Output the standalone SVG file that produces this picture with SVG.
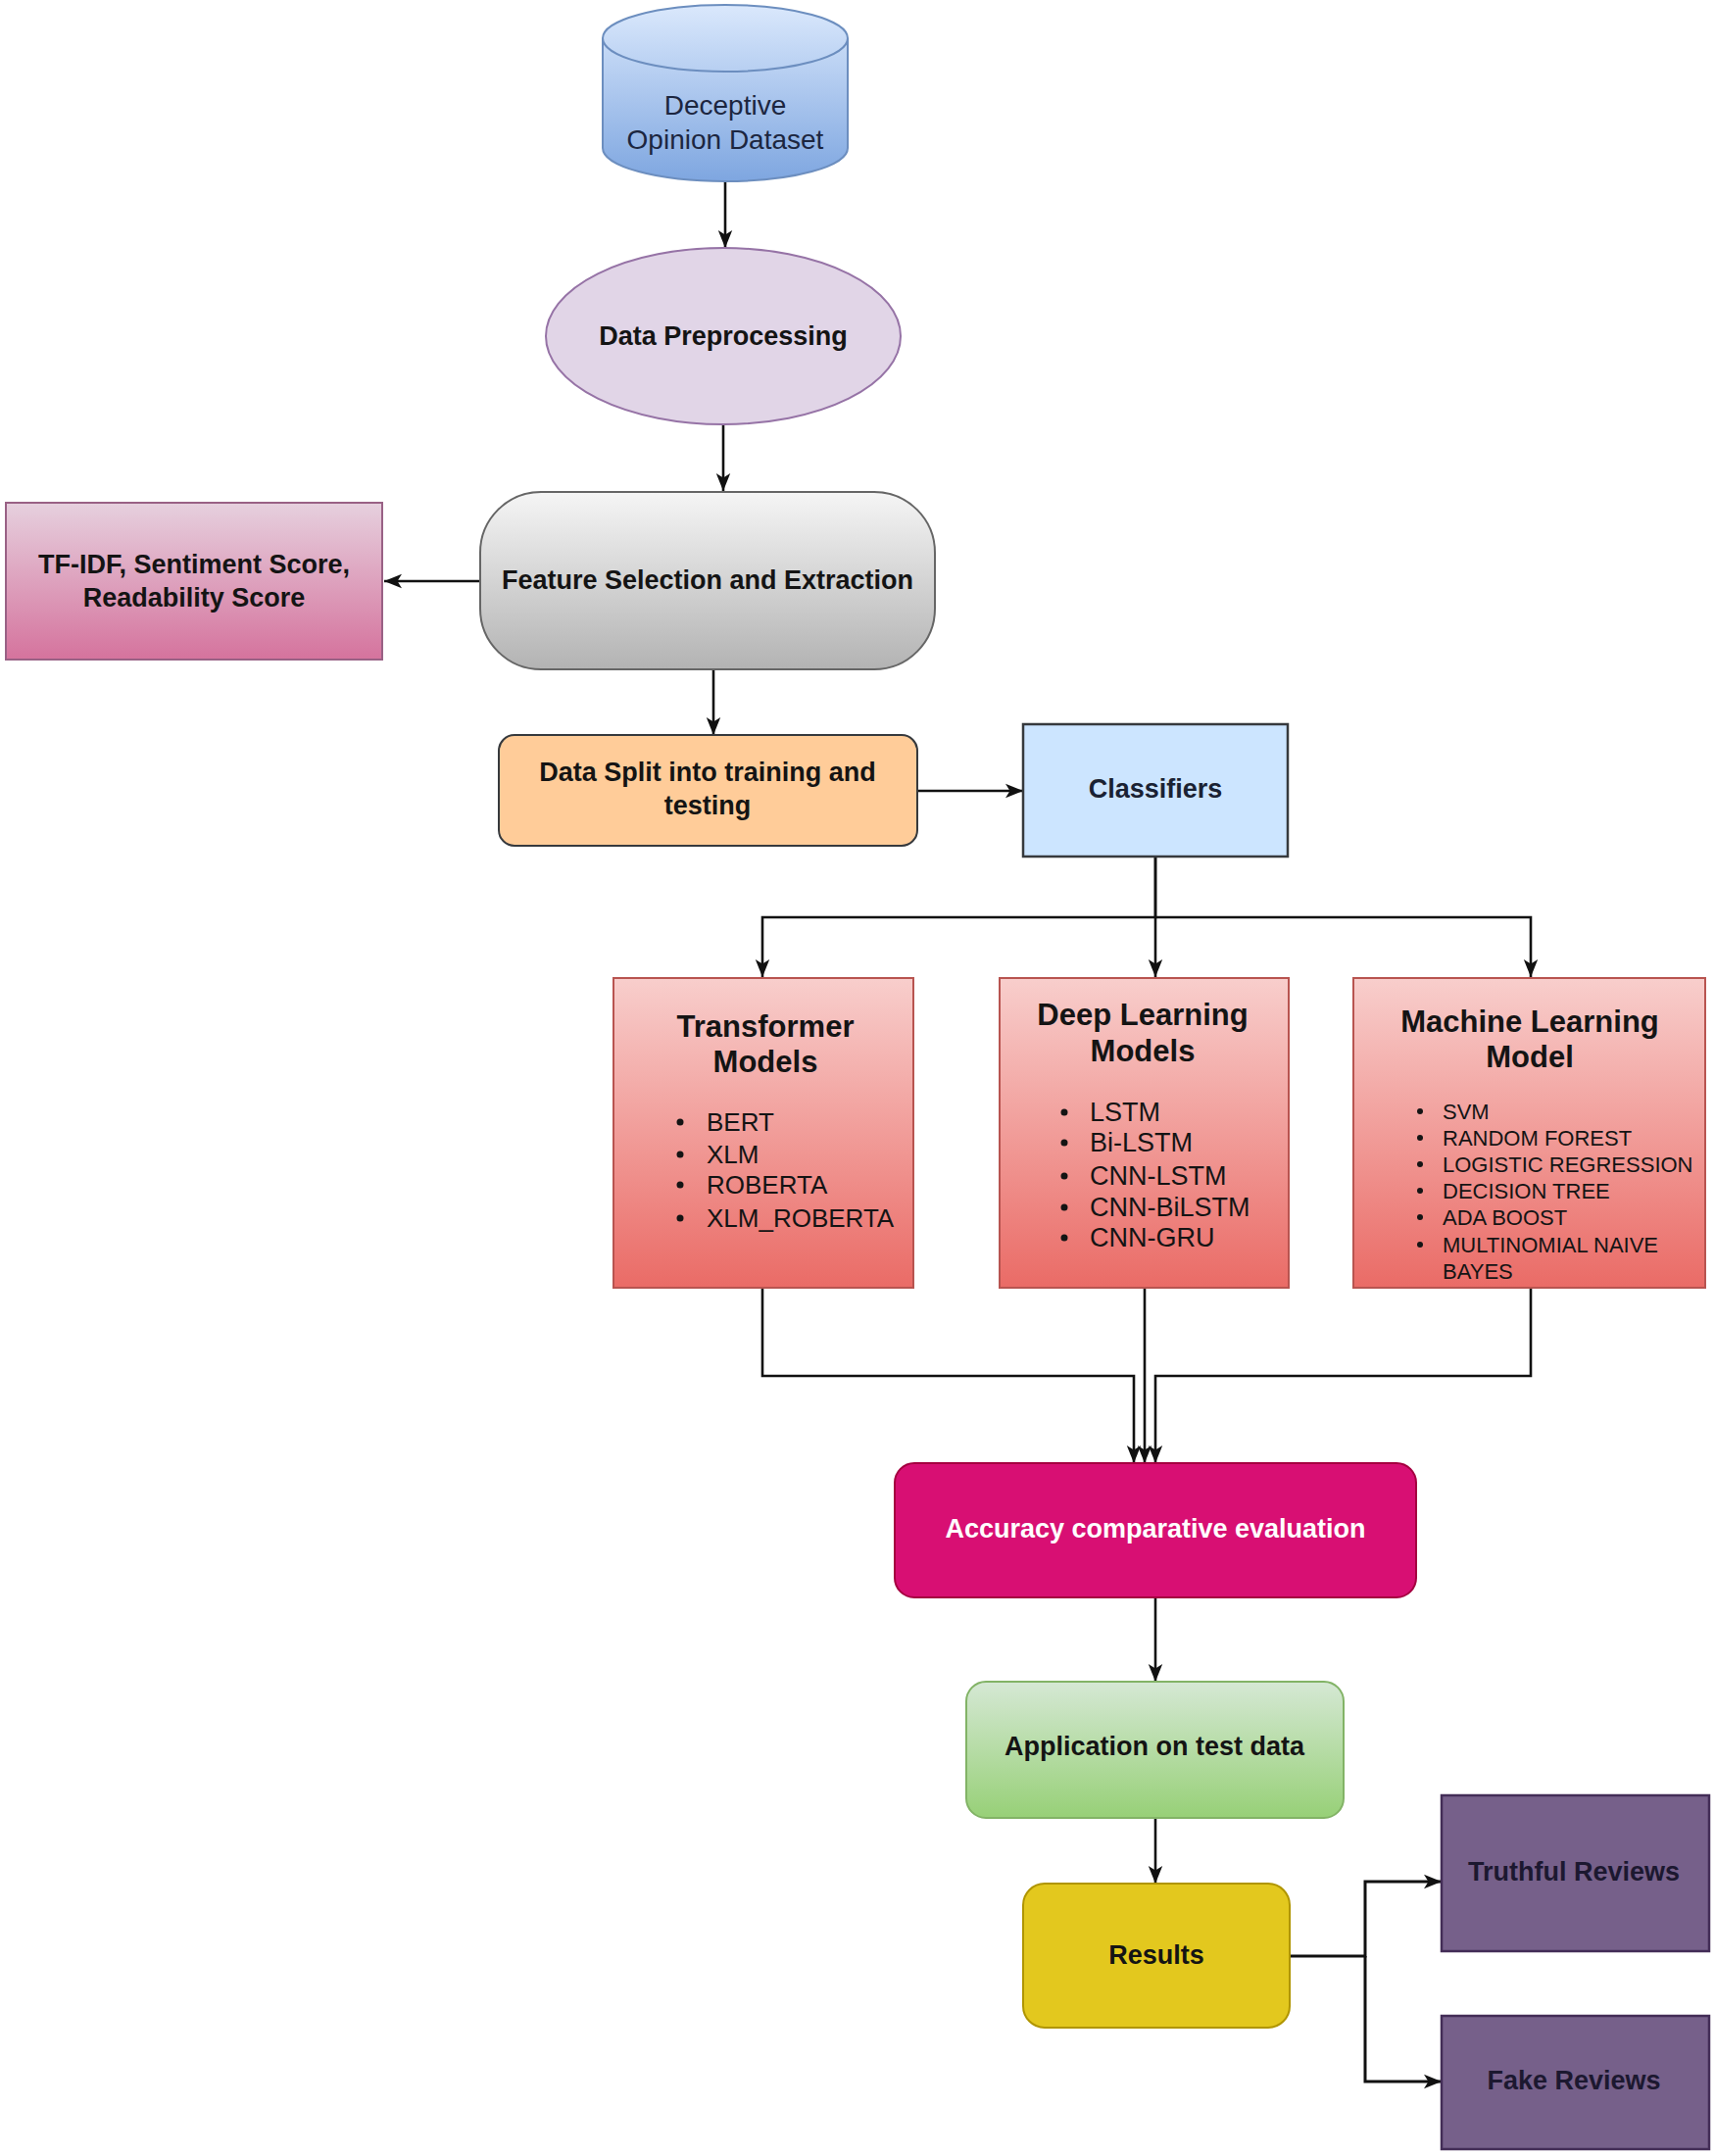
<svg xmlns="http://www.w3.org/2000/svg" width="1750" height="2200" viewBox="0 0 1750 2200">
<style>
text{font-family:"Liberation Sans",Arial,Helvetica,sans-serif;fill:#141414;text-anchor:middle}
.lbl{font-size:27px;font-weight:bold}
.ttl{font-size:31px;font-weight:bold}
.b1{font-size:26px;text-anchor:start}
.b2{font-size:27px;text-anchor:start}
.b3{font-size:22px;text-anchor:start}
.conn{fill:none;stroke:#111;stroke-width:2.6;marker-end:url(#arr)}
.dot{fill:#141414}
</style>
<defs>
<marker id="arr" viewBox="0 0 20 20" refX="20" refY="10" markerWidth="18" markerHeight="18" markerUnits="userSpaceOnUse" orient="auto">
<path d="M0,2 L20,10 L0,18 L5,10 z" fill="#111"/>
</marker>
<linearGradient id="gBlue" x1="0" y1="0" x2="0" y2="1"><stop offset="0" stop-color="#dae8fc"/><stop offset="1" stop-color="#7ea6e0"/></linearGradient>
<linearGradient id="gGray" x1="0" y1="0" x2="0" y2="1"><stop offset="0" stop-color="#f5f5f5"/><stop offset="1" stop-color="#b3b3b3"/></linearGradient>
<linearGradient id="gPink" x1="0" y1="0" x2="0" y2="1"><stop offset="0" stop-color="#e6d0de"/><stop offset="1" stop-color="#d5739d"/></linearGradient>
<linearGradient id="gRed" x1="0" y1="0" x2="0" y2="1"><stop offset="0" stop-color="#f8cecc"/><stop offset="1" stop-color="#ea6b66"/></linearGradient>
<linearGradient id="gGreen" x1="0" y1="0" x2="0" y2="1"><stop offset="0" stop-color="#d5e8d4"/><stop offset="1" stop-color="#97d077"/></linearGradient>
</defs>
<rect width="1750" height="2200" fill="#ffffff"/>

<g id="connectors">
<path class="conn" d="M740,185 V253"/>
<path class="conn" d="M738,433 V501"/>
<path class="conn" d="M490,593 H392"/>
<path class="conn" d="M728,683 V750"/>
<path class="conn" d="M936,807 H1044"/>
<path class="conn" d="M1179,874 V936 H778 V997"/>
<path class="conn" d="M1179,874 V997"/>
<path class="conn" d="M1179,936 H1562 V997"/>
<path class="conn" d="M778,1314 V1404 H1157 V1493"/>
<path class="conn" d="M1168,1314 V1493"/>
<path class="conn" d="M1562,1314 V1404 H1179 V1493"/>
<path class="conn" d="M1179,1630 V1716"/>
<path class="conn" d="M1179,1855 V1922"/>
<path class="conn" d="M1316,1996 H1393 V1920 H1471" style="stroke-width:3"/>
<path class="conn" d="M1393,1996 V2124 H1471" style="stroke-width:3"/>
</g>

<g id="dataset">
<path d="M615,39 A125,34 0 0 1 865,39 V151 A125,34 0 0 1 615,151 Z" fill="url(#gBlue)" stroke="#6c8ebf" stroke-width="2"/>
<path d="M615,39 A125,34 0 0 0 865,39" fill="none" stroke="#6c8ebf" stroke-width="2"/>
<text class="lbl" x="740" y="117" style="font-weight:normal;font-size:28px;fill:#1c2640">Deceptive</text>
<text class="lbl" x="740" y="152" style="font-weight:normal;font-size:28px;fill:#1c2640">Opinion Dataset</text>
</g>

<g id="preprocessing">
<ellipse cx="738" cy="343" rx="181" ry="90" fill="#e1d5e7" stroke="#9673a6" stroke-width="2"/>
<text class="lbl" x="738" y="352">Data Preprocessing</text>
</g>

<g id="feature">
<rect x="490" y="502" width="464" height="181" rx="62" ry="62" fill="url(#gGray)" stroke="#666666" stroke-width="2"/>
<text class="lbl" x="722" y="601">Feature Selection and Extraction</text>
</g>

<g id="tfidf">
<rect x="6" y="513" width="384" height="160" fill="url(#gPink)" stroke="#996185" stroke-width="2"/>
<text class="lbl" x="198" y="585">TF-IDF, Sentiment Score,</text>
<text class="lbl" x="198" y="619">Readability Score</text>
</g>

<g id="split">
<rect x="509" y="750" width="427" height="113" rx="16" ry="16" fill="#ffcc99" stroke="#36393d" stroke-width="2"/>
<text class="lbl" x="722" y="797">Data Split into training and</text>
<text class="lbl" x="722" y="831">testing</text>
</g>

<g id="classifiers">
<rect x="1044" y="739" width="270" height="135" fill="#cce5ff" stroke="#36393d" stroke-width="2.5"/>
<text class="lbl" x="1179" y="814" style="fill:#1a2233">Classifiers</text>
</g>

<g id="transformer">
<rect x="626" y="998" width="306" height="316" fill="url(#gRed)" stroke="#b85450" stroke-width="2"/>
<text class="ttl" x="781" y="1058">Transformer</text>
<text class="ttl" x="781" y="1094">Models</text>
<circle class="dot" cx="694" cy="1145" r="3.5"/><text class="b1" x="721" y="1154">BERT</text>
<circle class="dot" cx="694" cy="1178" r="3.5"/><text class="b1" x="721" y="1187">XLM</text>
<circle class="dot" cx="694" cy="1209" r="3.5"/><text class="b1" x="721" y="1218">ROBERTA</text>
<circle class="dot" cx="694" cy="1243" r="3.5"/><text class="b1" x="721" y="1252">XLM_ROBERTA</text>
</g>

<g id="deeplearning">
<rect x="1020" y="998" width="295" height="316" fill="url(#gRed)" stroke="#b85450" stroke-width="2"/>
<text class="ttl" x="1166" y="1046">Deep Learning</text>
<text class="ttl" x="1166" y="1083">Models</text>
<circle class="dot" cx="1086" cy="1135" r="3.5"/><text class="b2" x="1112" y="1144">LSTM</text>
<circle class="dot" cx="1086" cy="1166" r="3.5"/><text class="b2" x="1112" y="1175">Bi-LSTM</text>
<circle class="dot" cx="1086" cy="1200" r="3.5"/><text class="b2" x="1112" y="1209">CNN-LSTM</text>
<circle class="dot" cx="1086" cy="1232" r="3.5"/><text class="b2" x="1112" y="1241">CNN-BiLSTM</text>
<circle class="dot" cx="1086" cy="1263" r="3.5"/><text class="b2" x="1112" y="1272">CNN-GRU</text>
</g>

<g id="machinelearning">
<rect x="1381" y="998" width="359" height="316" fill="url(#gRed)" stroke="#b85450" stroke-width="2"/>
<text class="ttl" x="1561" y="1053">Machine Learning</text>
<text class="ttl" x="1561" y="1089">Model</text>
<circle class="dot" cx="1449" cy="1134" r="3"/><text class="b3" x="1472" y="1142">SVM</text>
<circle class="dot" cx="1449" cy="1161" r="3"/><text class="b3" x="1472" y="1169">RANDOM FOREST</text>
<circle class="dot" cx="1449" cy="1188" r="3"/><text class="b3" x="1472" y="1196">LOGISTIC REGRESSION</text>
<circle class="dot" cx="1449" cy="1215" r="3"/><text class="b3" x="1472" y="1223">DECISION TREE</text>
<circle class="dot" cx="1449" cy="1242" r="3"/><text class="b3" x="1472" y="1250">ADA BOOST</text>
<circle class="dot" cx="1449" cy="1270" r="3"/><text class="b3" x="1472" y="1278">MULTINOMIAL NAIVE</text>
<text class="b3" x="1472" y="1305">BAYES</text>
</g>

<g id="accuracy">
<rect x="913" y="1493" width="532" height="137" rx="20" ry="20" fill="#d80f73" stroke="#a50040" stroke-width="2"/>
<text class="lbl" x="1179" y="1569" style="fill:#ffffff">Accuracy comparative evaluation</text>
</g>

<g id="application">
<rect x="986" y="1716" width="385" height="139" rx="20" ry="20" fill="url(#gGreen)" stroke="#82b366" stroke-width="2"/>
<text class="lbl" x="1178" y="1791">Application on test data</text>
</g>

<g id="results">
<rect x="1044" y="1922" width="272" height="147" rx="22" ry="22" fill="#e3c81e" stroke="#b09500" stroke-width="2"/>
<text class="lbl" x="1180" y="2004">Results</text>
</g>

<g id="truthful">
<rect x="1471" y="1832" width="273" height="159" fill="#76608a" stroke="#432d57" stroke-width="2.5"/>
<text class="lbl" x="1606" y="1919" style="fill:#1c1830">Truthful Reviews</text>
</g>

<g id="fake">
<rect x="1471" y="2057" width="273" height="136" fill="#76608a" stroke="#432d57" stroke-width="2.5"/>
<text class="lbl" x="1606" y="2132" style="fill:#1c1830">Fake Reviews</text>
</g>
</svg>
